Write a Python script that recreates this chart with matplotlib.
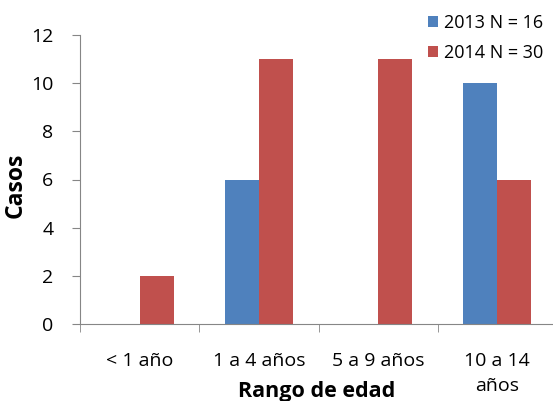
import numpy as np
import matplotlib.pyplot as plt

plt.rcParams['font.family'] = ['Open Sans', 'DejaVu Sans']

categorias = ['< 1 año', '1 a 4 años', '5 a 9 años', '10 a 14\naños']
casos_2013 = [0, 6, 0, 10]
casos_2014 = [2, 11, 11, 6]
etiquetas = ['2013 N = 16', '2014 N = 30']

azul = '#4F81BD'
rojo = '#C0504D'
gris = '#868686'

fig = plt.figure(figsize=(5.53, 4.01), dpi=100)
ax = fig.add_axes([80 / 553, 77 / 401, 477 / 553, 289 / 401])

x = np.arange(len(categorias))
w = 0.286
ax.bar(x - w / 2, casos_2013, w, color=azul, label=etiquetas[0])
ax.bar(x + w / 2, casos_2014, w, color=rojo, label=etiquetas[1])

ax.set_xlim(-0.5, len(categorias) - 0.5)
ax.set_ylim(0, 12)
ax.set_yticks(range(0, 13, 2))
ax.set_xticks(x)
ax.set_xticklabels(categorias, fontsize=14, linespacing=1.5)
ax.set_xticks(np.arange(-0.5, len(categorias), 1), minor=True)
ax.tick_params(axis='x', which='major', length=0, pad=20)
ax.tick_params(axis='x', which='minor', length=6, color=gris, direction='out')
ax.tick_params(axis='y', length=6, color=gris, labelsize=14, pad=13)

for s in ['top', 'right']:
    ax.spines[s].set_visible(False)
for s in ['left', 'bottom']:
    ax.spines[s].set_color(gris)

# ejes con títulos en negrita
fig.text(16 / 553, (401 - 185) / 401, 'Casos', rotation=90,
         fontsize=16.5, fontweight='bold', ha='center', va='center')
fig.text(317 / 553, 10 / 401, 'Rango de edad',
         fontsize=15.5, fontweight='bold', ha='center', va='center')

fig.legend(loc='upper left', bbox_to_anchor=(415 / 553, 0.997), frameon=False,
           fontsize=13, handlelength=0.55, handleheight=0.55, handletextpad=0.33,
           labelspacing=0.65, borderaxespad=0.3)

fig.savefig('out.png', dpi=100)
